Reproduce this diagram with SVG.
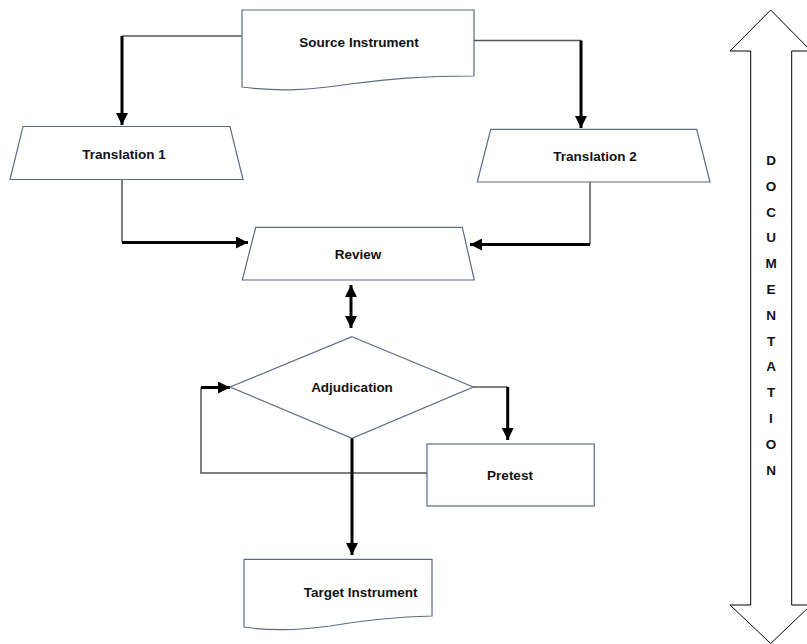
<svg xmlns="http://www.w3.org/2000/svg" width="807" height="644" viewBox="0 0 807 644">
<style>
.shape{fill:#fff;stroke:#5b6b86;stroke-width:1.2}
.lbl{font-family:"Liberation Sans",Arial,sans-serif;font-weight:bold;font-size:13.5px;fill:#111;text-anchor:middle}
.thin{fill:none;stroke:#555;stroke-width:1.5}
.thick{fill:none;stroke:#000;stroke-width:3}
.big{fill:#fff;stroke:#000;stroke-width:1}
</style>
<defs>
<marker id="ah" viewBox="0 0 10 10" refX="10" refY="5" markerWidth="4" markerHeight="4" orient="auto-start-reverse" markerUnits="strokeWidth">
<path d="M0,0 L10,5 L0,10 Z" fill="#000"/>
</marker>
</defs>
<rect width="807" height="644" fill="#fff"/>

<g id="documentation">
<path class="big" d="M770.7,10 L811,51 L791.7,51 L791.7,605 L811,605 L770.7,643.5 L730,605 L750.7,605 L750.7,51 L730,51 Z"/>
<g class="lbl">
<text x="771" y="165">D</text>
<text x="771" y="191">O</text>
<text x="771" y="217">C</text>
<text x="771" y="242">U</text>
<text x="771" y="268">M</text>
<text x="771" y="294">E</text>
<text x="771" y="320">N</text>
<text x="771" y="346">T</text>
<text x="771" y="371">A</text>
<text x="771" y="397">T</text>
<text x="771" y="423">I</text>
<text x="771" y="449">O</text>
<text x="771" y="475">N</text>
</g>
</g>

<g id="connectors">
<path class="thin" d="M242,36 H122"/>
<path class="thick" d="M122,36 V125" marker-end="url(#ah)"/>
<path class="thin" d="M474,40.5 H581"/>
<path class="thick" d="M581,40.5 V128" marker-end="url(#ah)"/>
<path class="thin" d="M122,179 V242.5"/>
<path class="thick" d="M122,242.5 H248" marker-end="url(#ah)"/>
<path class="thin" d="M590,182 V244.5"/>
<path class="thick" d="M590,244.5 H470" marker-end="url(#ah)"/>
<path class="thick" d="M351,285 V328" marker-start="url(#ah)" marker-end="url(#ah)"/>
<path class="thin" d="M473,387 H507.7"/>
<path class="thick" d="M507.7,387 V440" marker-end="url(#ah)"/>
<path class="thin" d="M427,473 H201 V387.5"/>
<path class="thick" d="M201,387.5 H230" marker-end="url(#ah)"/>
<path class="thick" d="M352,438 V555" marker-end="url(#ah)"/>
</g>

<g id="source">
<path class="shape" d="M242,10 H474 V76 C420,76 390,79 350,84 C310,90 280,92 242,87 Z"/>
<text class="lbl" x="359" y="47">Source Instrument</text>
</g>

<g id="translation1">
<path class="shape" d="M23,126.5 H230 L243,179.5 H10 Z"/>
<text class="lbl" x="124" y="159">Translation 1</text>
</g>

<g id="translation2">
<path class="shape" d="M490.7,129.3 H696.7 L710,182 H477.3 Z"/>
<text class="lbl" x="595" y="161">Translation 2</text>
</g>

<g id="review">
<path class="shape" d="M255.7,227.3 H462.3 L474.3,280 H242.3 Z"/>
<text class="lbl" x="358" y="259">Review</text>
</g>

<g id="adjudication">
<path class="shape" d="M352,336.7 L473.3,387 L352,438.3 L230,387 Z"/>
<text class="lbl" x="352" y="392">Adjudication</text>
</g>

<g id="pretest">
<rect class="shape" x="427" y="444" width="167.3" height="62"/>
<text class="lbl" x="510" y="480">Pretest</text>
</g>

<g id="target">
<path class="shape" d="M244,559.3 H432 V616 C390,617 360,621 330,626 C295,631 270,631 244,627 Z"/>
<text class="lbl" x="360.7" y="597">Target Instrument</text>
</g>
</svg>
